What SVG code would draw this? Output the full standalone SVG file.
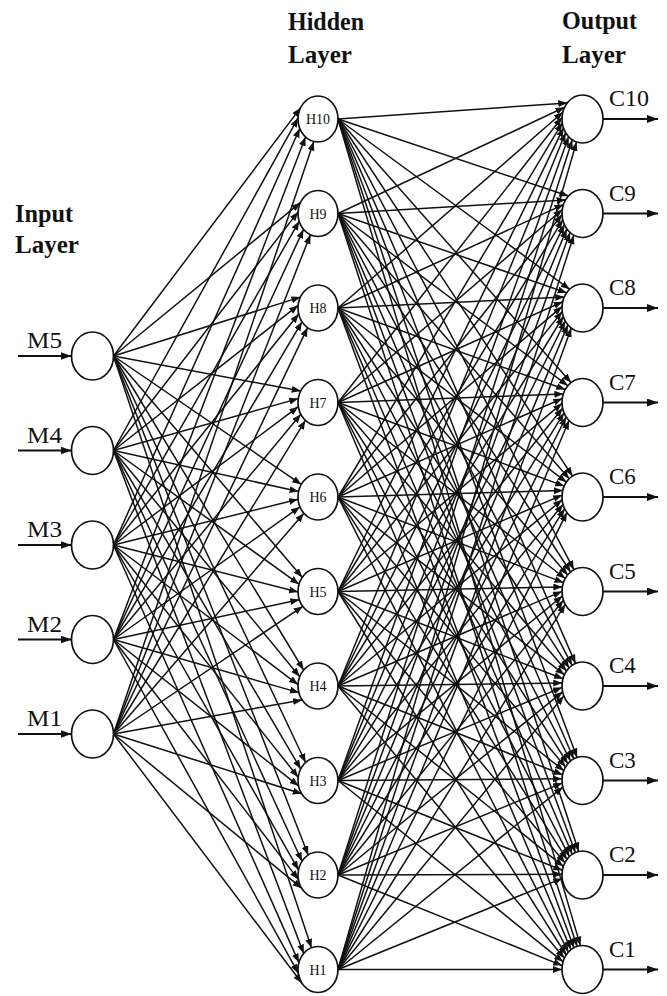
<svg xmlns="http://www.w3.org/2000/svg" width="667" height="996" viewBox="0 0 667 996">
<defs>
<marker id="ah" markerUnits="userSpaceOnUse" markerWidth="10" markerHeight="8" refX="9" refY="3.5" orient="auto"><path d="M0,0 L9,3.5 L0,7 z" fill="#111"/></marker>
<marker id="ab" markerUnits="userSpaceOnUse" markerWidth="12" markerHeight="9" refX="11" refY="4" orient="auto"><path d="M0,0 L11,4 L0,8 z" fill="#111"/></marker>
</defs>
<style>
line{stroke:#111;stroke-width:1.5;marker-end:url(#ah)}
line.io{stroke-width:1.8;marker-end:url(#ab)}
.n{fill:#fff;stroke:#111;stroke-width:1.7}
.t{font-family:"Liberation Serif","Times New Roman",serif;font-weight:bold;font-size:25px;fill:#111}
.lb{font-family:"Liberation Serif","Times New Roman",serif;font-size:23px;fill:#111}
.hl{font-family:"Liberation Serif","Times New Roman",serif;font-size:14px;fill:#111;text-anchor:middle}
</style>
<rect width="667" height="996" fill="#fff"/>
<g id="titles">
<text class="t" x="288" y="30" textLength="76" lengthAdjust="spacingAndGlyphs">Hidden</text><text class="t" x="288" y="63">Layer</text>
<text class="t" x="562" y="29" textLength="75" lengthAdjust="spacingAndGlyphs">Output</text><text class="t" x="562" y="63">Layer</text>
<text class="t" x="15" y="222" textLength="58" lengthAdjust="spacingAndGlyphs">Input</text><text class="t" x="15" y="253">Layer</text>
</g>
<g id="M5"><ellipse class="n" cx="92.5" cy="356" rx="21" ry="24"/><text class="lb" x="27" y="348" textLength="35" lengthAdjust="spacingAndGlyphs">M5</text></g>
<g id="M4"><ellipse class="n" cx="92.5" cy="450.5" rx="21" ry="24"/><text class="lb" x="27" y="442.5" textLength="35" lengthAdjust="spacingAndGlyphs">M4</text></g>
<g id="M3"><ellipse class="n" cx="92.5" cy="545" rx="21" ry="24"/><text class="lb" x="27" y="537" textLength="35" lengthAdjust="spacingAndGlyphs">M3</text></g>
<g id="M2"><ellipse class="n" cx="92.5" cy="639.5" rx="21" ry="24"/><text class="lb" x="27" y="631.5" textLength="35" lengthAdjust="spacingAndGlyphs">M2</text></g>
<g id="M1"><ellipse class="n" cx="92.5" cy="734" rx="21" ry="24"/><text class="lb" x="27" y="726" textLength="35" lengthAdjust="spacingAndGlyphs">M1</text></g>
<g id="H10"><ellipse class="n" cx="318" cy="119" rx="20" ry="23"/><text class="hl" x="318" y="124">H10</text></g>
<g id="H9"><ellipse class="n" cx="318" cy="213.5" rx="20" ry="23"/><text class="hl" x="318" y="218.5">H9</text></g>
<g id="H8"><ellipse class="n" cx="318" cy="308" rx="20" ry="23"/><text class="hl" x="318" y="313">H8</text></g>
<g id="H7"><ellipse class="n" cx="318" cy="402.5" rx="20" ry="23"/><text class="hl" x="318" y="407.5">H7</text></g>
<g id="H6"><ellipse class="n" cx="318" cy="497" rx="20" ry="23"/><text class="hl" x="318" y="502">H6</text></g>
<g id="H5"><ellipse class="n" cx="318" cy="591.5" rx="20" ry="23"/><text class="hl" x="318" y="596.5">H5</text></g>
<g id="H4"><ellipse class="n" cx="318" cy="686" rx="20" ry="23"/><text class="hl" x="318" y="691">H4</text></g>
<g id="H3"><ellipse class="n" cx="318" cy="780.5" rx="20" ry="23"/><text class="hl" x="318" y="785.5">H3</text></g>
<g id="H2"><ellipse class="n" cx="318" cy="875" rx="20" ry="23"/><text class="hl" x="318" y="880">H2</text></g>
<g id="H1"><ellipse class="n" cx="318" cy="969.5" rx="20" ry="23"/><text class="hl" x="318" y="974.5">H1</text></g>
<g id="C10"><ellipse class="n" cx="582.5" cy="119" rx="20.5" ry="24"/><text class="lb" x="609" y="106" textLength="40" lengthAdjust="spacingAndGlyphs">C10</text></g>
<g id="C9"><ellipse class="n" cx="582.5" cy="213.5" rx="20.5" ry="24"/><text class="lb" x="609" y="200.5">C9</text></g>
<g id="C8"><ellipse class="n" cx="582.5" cy="308" rx="20.5" ry="24"/><text class="lb" x="609" y="295">C8</text></g>
<g id="C7"><ellipse class="n" cx="582.5" cy="402.5" rx="20.5" ry="24"/><text class="lb" x="609" y="389.5">C7</text></g>
<g id="C6"><ellipse class="n" cx="582.5" cy="497" rx="20.5" ry="24"/><text class="lb" x="609" y="484">C6</text></g>
<g id="C5"><ellipse class="n" cx="582.5" cy="591.5" rx="20.5" ry="24"/><text class="lb" x="609" y="578.5">C5</text></g>
<g id="C4"><ellipse class="n" cx="582.5" cy="686" rx="20.5" ry="24"/><text class="lb" x="609" y="673">C4</text></g>
<g id="C3"><ellipse class="n" cx="582.5" cy="780.5" rx="20.5" ry="24"/><text class="lb" x="609" y="767.5">C3</text></g>
<g id="C2"><ellipse class="n" cx="582.5" cy="875" rx="20.5" ry="24"/><text class="lb" x="609" y="862">C2</text></g>
<g id="C1"><ellipse class="n" cx="582.5" cy="969.5" rx="20.5" ry="24"/><text class="lb" x="609" y="956.5">C1</text></g>
<g id="connectors">
<line class="io" x1="18" y1="356" x2="71.5" y2="356"/>
<line class="io" x1="18" y1="450.5" x2="71.5" y2="450.5"/>
<line class="io" x1="18" y1="545" x2="71.5" y2="545"/>
<line class="io" x1="18" y1="639.5" x2="71.5" y2="639.5"/>
<line class="io" x1="18" y1="734" x2="71.5" y2="734"/>
<line class="io" x1="603" y1="119" x2="658" y2="119"/>
<line class="io" x1="603" y1="213.5" x2="658" y2="213.5"/>
<line class="io" x1="603" y1="308" x2="658" y2="308"/>
<line class="io" x1="603" y1="402.5" x2="658" y2="402.5"/>
<line class="io" x1="603" y1="497" x2="658" y2="497"/>
<line class="io" x1="603" y1="591.5" x2="658" y2="591.5"/>
<line class="io" x1="603" y1="686" x2="658" y2="686"/>
<line class="io" x1="603" y1="780.5" x2="658" y2="780.5"/>
<line class="io" x1="603" y1="875" x2="658" y2="875"/>
<line class="io" x1="603" y1="969.5" x2="658" y2="969.5"/>
<line x1="113.5" y1="356" x2="300.5" y2="107.9"/>
<line x1="113.5" y1="450.5" x2="298" y2="118.1"/>
<line x1="113.5" y1="545" x2="299.8" y2="128.5"/>
<line x1="113.5" y1="639.5" x2="305.5" y2="136.9"/>
<line x1="113.5" y1="734" x2="313.8" y2="141.5"/>
<line x1="113.5" y1="356" x2="300.3" y2="202.7"/>
<line x1="113.5" y1="450.5" x2="298.1" y2="211.9"/>
<line x1="113.5" y1="545" x2="299.2" y2="221.3"/>
<line x1="113.5" y1="639.5" x2="303.5" y2="229.4"/>
<line x1="113.5" y1="734" x2="310.4" y2="234.8"/>
<line x1="113.5" y1="356" x2="300.4" y2="297.1"/>
<line x1="113.5" y1="450.5" x2="298.1" y2="305.4"/>
<line x1="113.5" y1="545" x2="298.7" y2="314"/>
<line x1="113.5" y1="639.5" x2="302" y2="321.8"/>
<line x1="113.5" y1="734" x2="307.6" y2="327.6"/>
<line x1="113.5" y1="356" x2="300.7" y2="391"/>
<line x1="113.5" y1="450.5" x2="298.3" y2="398.6"/>
<line x1="113.5" y1="545" x2="298.3" y2="406.7"/>
<line x1="113.5" y1="639.5" x2="300.8" y2="414.3"/>
<line x1="113.5" y1="734" x2="305.4" y2="420.4"/>
<line x1="113.5" y1="356" x2="301.3" y2="484.4"/>
<line x1="113.5" y1="450.5" x2="298.6" y2="491.5"/>
<line x1="113.5" y1="545" x2="298.1" y2="499.3"/>
<line x1="113.5" y1="639.5" x2="299.9" y2="506.9"/>
<line x1="113.5" y1="734" x2="303.9" y2="513.3"/>
<line x1="113.5" y1="356" x2="302.2" y2="577.3"/>
<line x1="113.5" y1="450.5" x2="299" y2="584.2"/>
<line x1="113.5" y1="545" x2="298" y2="592"/>
<line x1="113.5" y1="639.5" x2="299.3" y2="599.7"/>
<line x1="113.5" y1="734" x2="302.7" y2="606.4"/>
<line x1="113.5" y1="356" x2="303.6" y2="670"/>
<line x1="113.5" y1="450.5" x2="299.7" y2="676.7"/>
<line x1="113.5" y1="545" x2="298" y2="684.6"/>
<line x1="113.5" y1="639.5" x2="298.9" y2="692.6"/>
<line x1="113.5" y1="734" x2="302" y2="699.9"/>
<line x1="113.5" y1="356" x2="305.6" y2="762.5"/>
<line x1="113.5" y1="450.5" x2="300.7" y2="769"/>
<line x1="113.5" y1="545" x2="298.2" y2="777.2"/>
<line x1="113.5" y1="639.5" x2="298.6" y2="785.9"/>
<line x1="113.5" y1="734" x2="301.7" y2="793.8"/>
<line x1="113.5" y1="356" x2="308.2" y2="855"/>
<line x1="113.5" y1="450.5" x2="302" y2="861.3"/>
<line x1="113.5" y1="545" x2="298.5" y2="869.9"/>
<line x1="113.5" y1="639.5" x2="298.4" y2="879.4"/>
<line x1="113.5" y1="734" x2="301.6" y2="888.2"/>
<line x1="113.5" y1="356" x2="311.5" y2="947.8"/>
<line x1="113.5" y1="450.5" x2="303.7" y2="953.5"/>
<line x1="113.5" y1="545" x2="298.9" y2="962.6"/>
<line x1="113.5" y1="639.5" x2="298.3" y2="973.2"/>
<line x1="113.5" y1="734" x2="301.8" y2="983"/>
<line x1="338" y1="119" x2="567.3" y2="102.9"/>
<line x1="338" y1="213.5" x2="564.6" y2="107.3"/>
<line x1="338" y1="308" x2="562.8" y2="112.2"/>
<line x1="338" y1="402.5" x2="562" y2="117.5"/>
<line x1="338" y1="497" x2="562.3" y2="122.8"/>
<line x1="338" y1="591.5" x2="563.5" y2="127.9"/>
<line x1="338" y1="686" x2="565.6" y2="132.7"/>
<line x1="338" y1="780.5" x2="568.6" y2="136.7"/>
<line x1="338" y1="875" x2="572.3" y2="139.8"/>
<line x1="338" y1="969.5" x2="576.5" y2="142"/>
<line x1="338" y1="119" x2="568.4" y2="196"/>
<line x1="338" y1="213.5" x2="565.6" y2="200"/>
<line x1="338" y1="308" x2="563.5" y2="204.6"/>
<line x1="338" y1="402.5" x2="562.3" y2="209.5"/>
<line x1="338" y1="497" x2="562" y2="214.7"/>
<line x1="338" y1="591.5" x2="562.7" y2="219.8"/>
<line x1="338" y1="686" x2="564.4" y2="224.7"/>
<line x1="338" y1="780.5" x2="566.8" y2="229"/>
<line x1="338" y1="875" x2="570" y2="232.5"/>
<line x1="338" y1="969.5" x2="573.8" y2="235.2"/>
<line x1="338" y1="119" x2="569.7" y2="289.3"/>
<line x1="338" y1="213.5" x2="566.6" y2="292.8"/>
<line x1="338" y1="308" x2="564.3" y2="297"/>
<line x1="338" y1="402.5" x2="562.7" y2="301.7"/>
<line x1="338" y1="497" x2="562" y2="306.6"/>
<line x1="338" y1="591.5" x2="562.2" y2="311.6"/>
<line x1="338" y1="686" x2="563.3" y2="316.5"/>
<line x1="338" y1="780.5" x2="565.3" y2="321"/>
<line x1="338" y1="875" x2="567.9" y2="324.9"/>
<line x1="338" y1="969.5" x2="571.3" y2="328.1"/>
<line x1="338" y1="119" x2="571" y2="382.6"/>
<line x1="338" y1="213.5" x2="567.8" y2="385.7"/>
<line x1="338" y1="308" x2="565.3" y2="389.5"/>
<line x1="338" y1="402.5" x2="563.4" y2="393.9"/>
<line x1="338" y1="497" x2="562.3" y2="398.5"/>
<line x1="338" y1="591.5" x2="562" y2="403.4"/>
<line x1="338" y1="686" x2="562.6" y2="408.2"/>
<line x1="338" y1="780.5" x2="564" y2="412.8"/>
<line x1="338" y1="875" x2="566.1" y2="417"/>
<line x1="338" y1="969.5" x2="569" y2="420.5"/>
<line x1="338" y1="119" x2="572.5" y2="476.1"/>
<line x1="338" y1="213.5" x2="569.2" y2="478.8"/>
<line x1="338" y1="308" x2="566.4" y2="482.2"/>
<line x1="338" y1="402.5" x2="564.2" y2="486.1"/>
<line x1="338" y1="497" x2="562.8" y2="490.5"/>
<line x1="338" y1="591.5" x2="562.1" y2="495.1"/>
<line x1="338" y1="686" x2="562.1" y2="499.8"/>
<line x1="338" y1="780.5" x2="563" y2="504.4"/>
<line x1="338" y1="875" x2="564.6" y2="508.7"/>
<line x1="338" y1="969.5" x2="566.9" y2="512.6"/>
<line x1="338" y1="119" x2="573.9" y2="569.7"/>
<line x1="338" y1="213.5" x2="570.6" y2="572"/>
<line x1="338" y1="308" x2="567.7" y2="575"/>
<line x1="338" y1="402.5" x2="565.3" y2="578.5"/>
<line x1="338" y1="497" x2="563.5" y2="582.6"/>
<line x1="338" y1="591.5" x2="562.4" y2="586.9"/>
<line x1="338" y1="686" x2="562" y2="591.4"/>
<line x1="338" y1="780.5" x2="562.4" y2="596"/>
<line x1="338" y1="875" x2="563.4" y2="600.3"/>
<line x1="338" y1="969.5" x2="565.2" y2="604.4"/>
<line x1="338" y1="119" x2="575.5" y2="663.4"/>
<line x1="338" y1="213.5" x2="572.1" y2="665.3"/>
<line x1="338" y1="308" x2="569.1" y2="667.9"/>
<line x1="338" y1="402.5" x2="566.5" y2="671"/>
<line x1="338" y1="497" x2="564.4" y2="674.7"/>
<line x1="338" y1="591.5" x2="563" y2="678.8"/>
<line x1="338" y1="686" x2="562.2" y2="683"/>
<line x1="338" y1="780.5" x2="562" y2="687.4"/>
<line x1="338" y1="875" x2="562.6" y2="691.8"/>
<line x1="338" y1="969.5" x2="563.8" y2="695.9"/>
<line x1="338" y1="119" x2="577.1" y2="757.4"/>
<line x1="338" y1="213.5" x2="573.7" y2="758.8"/>
<line x1="338" y1="308" x2="570.6" y2="761"/>
<line x1="338" y1="402.5" x2="567.8" y2="763.7"/>
<line x1="338" y1="497" x2="565.6" y2="767"/>
<line x1="338" y1="591.5" x2="563.8" y2="770.7"/>
<line x1="338" y1="686" x2="562.6" y2="774.7"/>
<line x1="338" y1="780.5" x2="562" y2="778.8"/>
<line x1="338" y1="875" x2="562.1" y2="783.1"/>
<line x1="338" y1="969.5" x2="562.8" y2="787.2"/>
<line x1="338" y1="119" x2="578.7" y2="851.4"/>
<line x1="338" y1="213.5" x2="575.4" y2="852.5"/>
<line x1="338" y1="308" x2="572.2" y2="854.2"/>
<line x1="338" y1="402.5" x2="569.4" y2="856.6"/>
<line x1="338" y1="497" x2="566.9" y2="859.4"/>
<line x1="338" y1="591.5" x2="564.9" y2="862.7"/>
<line x1="338" y1="686" x2="563.4" y2="866.4"/>
<line x1="338" y1="780.5" x2="562.4" y2="870.3"/>
<line x1="338" y1="875" x2="562" y2="874.3"/>
<line x1="338" y1="969.5" x2="562.2" y2="878.4"/>
<line x1="338" y1="119" x2="580.4" y2="945.6"/>
<line x1="338" y1="213.5" x2="577.1" y2="946.4"/>
<line x1="338" y1="308" x2="573.9" y2="947.7"/>
<line x1="338" y1="402.5" x2="571" y2="949.6"/>
<line x1="338" y1="497" x2="568.4" y2="952"/>
<line x1="338" y1="591.5" x2="566.2" y2="955"/>
<line x1="338" y1="686" x2="564.4" y2="958.2"/>
<line x1="338" y1="780.5" x2="563.1" y2="961.8"/>
<line x1="338" y1="875" x2="562.3" y2="965.6"/>
<line x1="338" y1="969.5" x2="562" y2="969.5"/>
</g>
</svg>
